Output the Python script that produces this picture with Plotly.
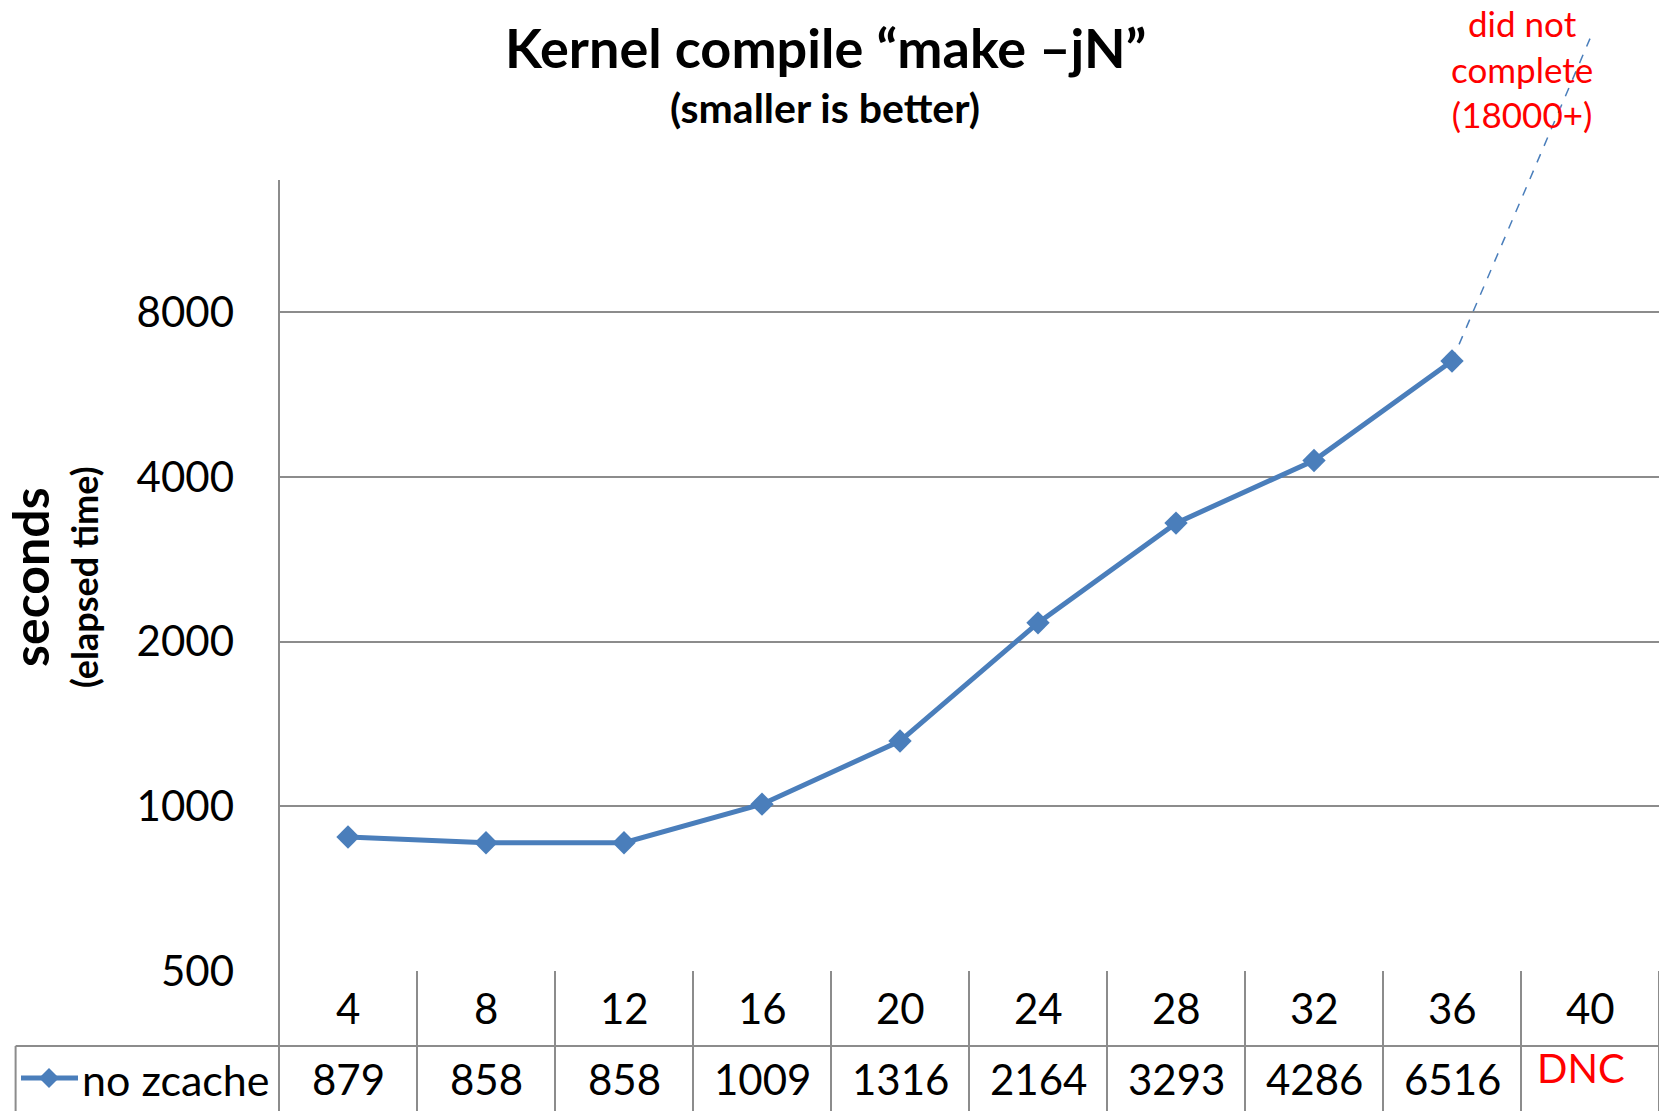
import plotly.graph_objects as go
import math

# ---- data ----
categories = ["4", "8", "12", "16", "20", "24", "28", "32", "36", "40"]
no_zcache = [879, 858, 858, 1009, 1316, 2164, 3293, 4286, 6516, None]
table_values = ["879", "858", "858", "1009", "1316", "2164", "3293", "4286", "6516", "DNC"]
dnc_segment_x = ["36", "40"]
dnc_segment_y = [6516, 25300]   # extrapolated "did not complete" line
y_ticks = [500, 1000, 2000, 4000, 8000]
y_ticktext = ["500", "1000", "2000", "4000", "8000"]
series_name = "no zcache"

# ---- layout geometry ----
W, H = 1662, 1111
ML, MR, MT, MB = 279, 3, 20, 140
PH = H - MT - MB
PW = W - ML - MR
PX_PER_DOUBLING = 164.7
ymin_log = math.log10(500)
ymax_log = ymin_log + (PH / PX_PER_DOUBLING) * math.log10(2)


def py(pix):  # pixel y -> paper y
    return (H - MB - pix) / PH


def px(pix):  # pixel x -> paper x
    return (pix - ML) / PW


FONT = "Lato, Open Sans, sans-serif"
BLUE = "#4a7ebb"
GRID = "#8c8c8c"

fig = go.Figure()
fig.add_trace(go.Scatter(
    x=categories, y=no_zcache, mode="lines+markers", name=series_name,
    line=dict(color=BLUE, width=5),
    marker=dict(symbol="diamond", size=18, color=BLUE), showlegend=False))
fig.add_trace(go.Scatter(
    x=dnc_segment_x, y=dnc_segment_y, mode="lines",
    line=dict(color=BLUE, width=1.5, dash="dash"), showlegend=False, hoverinfo="skip"))

shapes = []
# y axis line (extends down through the table)
shapes.append(dict(type="line", xref="paper", yref="paper", x0=0, x1=0,
                   y0=py(H), y1=py(180), line=dict(color=GRID, width=2)))
# vertical separators in table
for i in range(len(categories)):
    shapes.append(dict(type="line", xref="x", yref="paper", x0=i + 0.5, x1=i + 0.5,
                       y0=py(H), y1=0, line=dict(color=GRID, width=2)))
# row separator
shapes.append(dict(type="line", xref="paper", yref="paper", x0=px(15.6), x1=1,
                   y0=py(1046), y1=py(1046), line=dict(color=GRID, width=2)))
# legend cell left border
shapes.append(dict(type="line", xref="paper", yref="paper", x0=px(15.6), x1=px(15.6),
                   y0=py(H), y1=py(1046), line=dict(color=GRID, width=2)))
# legend key line + diamond
shapes.append(dict(type="line", xref="paper", yref="paper", x0=px(21), x1=px(78),
                   y0=py(1078), y1=py(1078), line=dict(color=BLUE, width=5)))
cx, cy, r = 49, 1078, 10
shapes.append(dict(type="path", xref="paper", yref="paper",
                   path=f"M {px(cx - r)} {py(cy)} L {px(cx)} {py(cy - r)} L {px(cx + r)} {py(cy)} L {px(cx)} {py(cy + r)} Z",
                   fillcolor=BLUE, line=dict(color=BLUE, width=0)))

annotations = []
for i, (c, v) in enumerate(zip(categories, table_values)):
    annotations.append(dict(x=i, xref="x", y=py(1008), yref="paper", text=c, showarrow=False,
                            xanchor="center", font=dict(family=FONT, size=42, color="black"),
                            yanchor="middle"))
    if v == "DNC":
        annotations.append(dict(x=i, xref="x", y=py(1068), yref="paper", text=v, showarrow=False,
                                xanchor="center", xshift=-9,
                                font=dict(family=FONT, size=40, color="red"), yanchor="middle"))
    else:
        annotations.append(dict(x=i, xref="x", y=py(1079), yref="paper", text=v, showarrow=False,
                                xanchor="center",
                                font=dict(family=FONT, size=42, color="black"), yanchor="middle"))
annotations.append(dict(x=px(80), xref="paper", y=py(1079), yref="paper", text=series_name,
                        showarrow=False, xanchor="left", yanchor="middle",
                        font=dict(family=FONT, size=43, color="black")))
# titles
annotations.append(dict(x=px(825), xref="paper", y=py(47), yref="paper",
                        text="<b>Kernel compile “make –jN”</b>", showarrow=False,
                        xanchor="center", yanchor="middle",
                        font=dict(family=FONT, size=54, color="black")))
annotations.append(dict(x=px(825), xref="paper", y=py(108), yref="paper",
                        text="<b>(smaller is better)</b>", showarrow=False,
                        xanchor="center", yanchor="middle",
                        font=dict(family=FONT, size=41, color="black")))
# y axis titles
annotations.append(dict(x=px(30), xref="paper", y=py(577), yref="paper", text="<b>seconds</b>",
                        showarrow=False, textangle=-90, xanchor="center", yanchor="middle",
                        font=dict(family=FONT, size=50, color="black")))
annotations.append(dict(x=px(84), xref="paper", y=py(577), yref="paper", text="<b>(elapsed time)</b>",
                        showarrow=False, textangle=-90, xanchor="center", yanchor="middle",
                        font=dict(family=FONT, size=36, color="black")))
# DNC note
annotations.append(dict(x=px(1522), xref="paper", y=py(68), yref="paper",
                        text="did not<br>complete<br>(18000+)", showarrow=False,
                        xanchor="center", yanchor="middle", align="center",
                        font=dict(family=FONT, size=35, color="red")))

fig.update_layout(
    width=W, height=H, margin=dict(l=ML, r=MR, t=MT, b=MB, autoexpand=False),
    paper_bgcolor="white", plot_bgcolor="white",
    showlegend=False, shapes=shapes, annotations=annotations,
    xaxis=dict(type="category", categoryorder="array", categoryarray=categories,
               range=[-0.5, len(categories) - 0.5], showticklabels=False, automargin=False,
               showgrid=False, zeroline=False, showline=False, ticks=""),
    yaxis=dict(type="log", range=[ymin_log, ymax_log], tickvals=y_ticks, ticktext=y_ticktext,
               showgrid=True, gridcolor=GRID, gridwidth=2, zeroline=False, showline=False,
               ticks="", ticklabelstandoff=44, automargin=False,
               tickfont=dict(family=FONT, size=42, color="black")),
)

fig.write_html("out.html", config={"displayModeBar": False},
               post_script="document.body.style.margin='0';")
